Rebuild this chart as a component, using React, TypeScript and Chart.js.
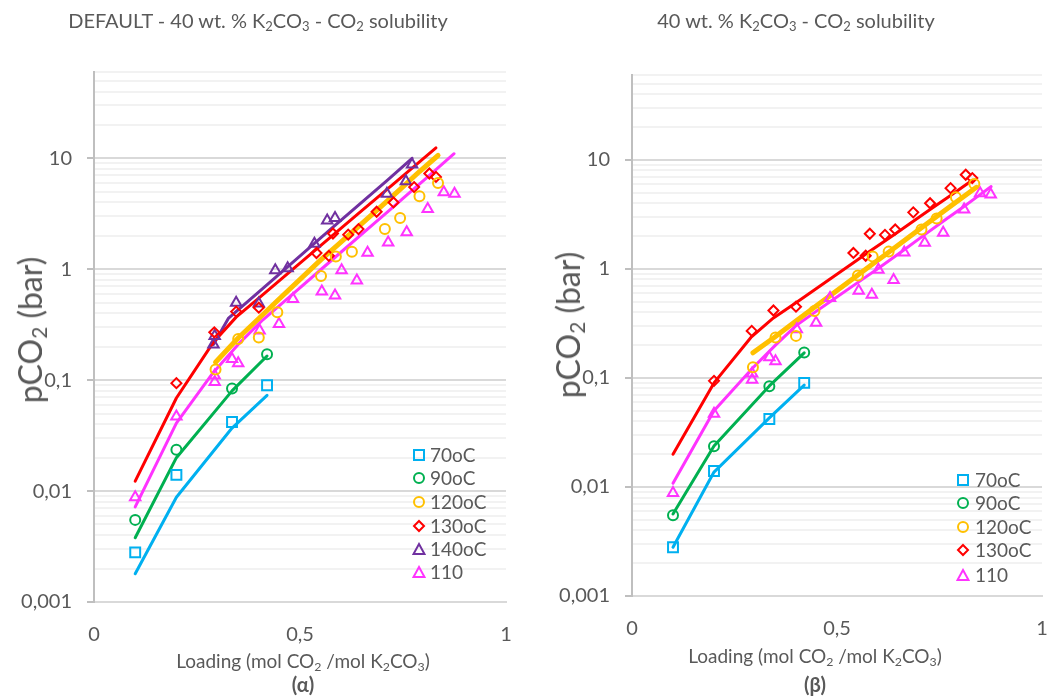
import React, { useEffect, useRef } from 'react';
import { Chart, registerables } from 'chart.js';

Chart.register(...registerables);

// ---------- axis ticks ----------
const xTickValues = [0, 0.5, 1];
const xTickLabels = ['0', '0,5', '1'];
const yMajorValues = [0.001, 0.01, 0.1, 1, 10];
const yMajorLabels = ['0,001', '0,01', '0,1', '1', '10'];
const yMin = 0.001;
const yMax = 60;

// ---------- experimental points (same in both panels) ----------
const exp70X = [0.1, 0.2, 0.335, 0.42];
const exp70Y = [0.0028, 0.014, 0.042, 0.09];
const exp90X = [0.1, 0.2, 0.335, 0.42];
const exp90Y = [0.0055, 0.0236, 0.084, 0.171];
const exp120X = [0.295, 0.35, 0.4, 0.445, 0.551, 0.587, 0.626, 0.706, 0.743, 0.79, 0.835];
const exp120Y = [0.125, 0.235, 0.243, 0.41, 0.87, 1.3, 1.44, 2.3, 2.9, 4.55, 6.0];
const exp130X = [0.2, 0.292, 0.345, 0.4, 0.54, 0.57, 0.58, 0.617, 0.642, 0.686, 0.727, 0.777, 0.814, 0.83];
const exp130Y = [0.094, 0.27, 0.415, 0.45, 1.4, 1.32, 2.1, 2.05, 2.3, 3.3, 4.0, 5.5, 7.3, 6.8];
const exp140X = [0.29, 0.293, 0.345, 0.4, 0.44, 0.47, 0.535, 0.566, 0.585, 0.711, 0.757, 0.772];
const exp140Y = [0.21, 0.25, 0.5, 0.49, 0.98, 1.02, 1.7, 2.75, 2.9, 4.8, 6.2, 8.8];
const exp110X = [0.1, 0.2, 0.293, 0.293, 0.335, 0.35, 0.402, 0.449, 0.483, 0.553, 0.585, 0.601, 0.638, 0.664, 0.714, 0.759, 0.81, 0.849, 0.875];
const exp110Y = [0.0088, 0.047, 0.096, 0.11, 0.155, 0.142, 0.28, 0.32, 0.54, 0.63, 0.58, 0.98, 0.79, 1.41, 1.74, 2.15, 3.5, 4.95, 4.8];

// ---------- model curves, panel (α) DEFAULT ----------
const a70X = [0.1, 0.2, 0.335, 0.42];
const a70Y = [0.0018, 0.0088, 0.037, 0.073];
const a90X = [0.1, 0.2, 0.335, 0.42];
const a90Y = [0.0038, 0.02, 0.08, 0.165];
const a120X = [0.295, 0.35, 0.4, 0.445, 0.551, 0.587, 0.626, 0.706, 0.743, 0.79, 0.835];
const a120Y = [0.145, 0.24, 0.36, 0.52, 1.22, 1.6, 2.15, 3.95, 5.25, 7.6, 10.6];
const a130X = [0.1, 0.2, 0.29, 0.345, 0.4, 0.54, 0.58, 0.64, 0.73, 0.83];
const a130Y = [0.0123, 0.069, 0.22, 0.37, 0.55, 1.52, 2.03, 3.14, 6.0, 12.4];
const a140X = [0.29, 0.326, 0.44, 0.535, 0.585, 0.711, 0.772];
const a140Y = [0.21, 0.36, 0.84, 1.71, 2.48, 6.3, 10.0];
const a110X = [0.1, 0.2, 0.29, 0.35, 0.41, 0.483, 0.553, 0.6, 0.664, 0.714, 0.759, 0.808, 0.874];
const a110Y = [0.0072, 0.041, 0.118, 0.21, 0.35, 0.6, 1.01, 1.43, 2.3, 3.33, 4.66, 6.7, 11.0];

// ---------- model curves, panel (β) ----------
const b70X = [0.1, 0.2, 0.335, 0.42];
const b70Y = [0.0028, 0.0137, 0.043, 0.086];
const b90X = [0.1, 0.2, 0.335, 0.42];
const b90Y = [0.00565, 0.0238, 0.0845, 0.17];
const b120X = [0.295, 0.35, 0.4, 0.445, 0.551, 0.587, 0.626, 0.706, 0.743, 0.79, 0.84];
const b120Y = [0.17, 0.24, 0.333, 0.445, 0.88, 1.11, 1.42, 2.38, 3.02, 4.08, 5.6];
const b130X = [0.1, 0.2, 0.29, 0.345, 0.4, 0.54, 0.58, 0.64, 0.686, 0.727, 0.777, 0.83];
const b130Y = [0.02, 0.09, 0.235, 0.355, 0.49, 1.14, 1.45, 2.07, 2.73, 3.5, 4.7, 6.5];
const b110X = [0.1, 0.2, 0.295, 0.35, 0.402, 0.45, 0.483, 0.553, 0.602, 0.664, 0.714, 0.759, 0.808, 0.849, 0.876];
const b110Y = [0.0108, 0.05, 0.124, 0.2, 0.306, 0.41, 0.5, 0.76, 1.02, 1.5, 2.06, 2.73, 3.7, 4.8, 5.69];

// ---------- styling ----------
const FONT = "Lato, 'Noto Sans', 'DejaVu Sans', sans-serif";
const TEXT = '#595959';
const C70 = '#00B0F0';
const C90 = '#00B050';
const C120 = '#FFC000';
const C130 = '#FF0000';
const C140 = '#7030A0';
const C110 = '#FF33FF';

const pts = (xs: number[], ys: number[]) => xs.map((x, i) => ({ x, y: ys[i] }));

function markerDs(label: string, xs: number[], ys: number[], color: string, style: string, radius: number) {
  return {
    label,
    data: pts(xs, ys),
    showLine: false,
    pointStyle: style,
    pointRadius: radius,
    pointBorderColor: color,
    pointBackgroundColor: 'rgba(0,0,0,0)',
    pointBorderWidth: 2,
    borderColor: color,
    order: 0,
  };
}

function lineDs(label: string, xs: number[], ys: number[], color: string, width: number) {
  return {
    label,
    data: pts(xs, ys),
    showLine: true,
    pointRadius: 0,
    borderColor: color,
    borderWidth: width,
    borderCapStyle: 'round',
    borderJoinStyle: 'round',
    fill: false,
    order: 1,
  };
}

const isMajor = (v: number) => {
  if (!(v > 0)) return false;
  const l = Math.log10(v);
  return Math.abs(l - Math.round(l)) < 1e-6;
};

function yTicks(): number[] {
  const out: number[] = [];
  for (let e = -3; e <= 1; e++) {
    for (let m = 1; m <= 9; m++) {
      const v = parseFloat((m * Math.pow(10, e)).toPrecision(6));
      if (v >= yMin - 1e-12 && v <= yMax + 1e-9) out.push(v);
    }
  }
  return out;
}

type Area = { left: number; top: number; right: number; bottom: number };

function Panel({ left, width, height, area, datasets }: { left: number; width: number; height: number; area: Area; datasets: any[] }) {
  const ref = useRef<HTMLCanvasElement>(null);
  useEffect(() => {
    if (!ref.current) return;
    const chart = new Chart(ref.current, {
      type: 'scatter',
      data: { datasets },
      options: {
        animation: false,
        responsive: false,
        events: [],
        layout: { padding: { top: area.top, right: width - area.right, left: 0, bottom: 0 } },
        plugins: { legend: { display: false }, tooltip: { enabled: false }, title: { display: false } },
        scales: {
          x: {
            type: 'linear',
            min: 0,
            max: 1,
            afterBuildTicks: (s: any) => {
              s.ticks = xTickValues.map((v) => ({ value: v }));
            },
            afterFit: (s: any) => {
              s.height = height - area.bottom;
            },
            grid: {
              display: true,
              drawOnChartArea: false,
              drawTicks: true,
              tickLength: 21,
              color: 'rgba(0,0,0,0)',
              tickColor: 'rgba(0,0,0,0)',
            },
            border: { display: true, color: '#d9d9d9', width: 2 },
            ticks: {
              autoSkip: false,
              maxRotation: 0,
              padding: 0,
              color: TEXT,
              font: { family: FONT, size: 20 },
              callback: (v: any) => {
                const i = xTickValues.findIndex((t) => Math.abs(t - Number(v)) < 1e-9);
                return i >= 0 ? xTickLabels[i] : '';
              },
            },
          },
          y: {
            type: 'logarithmic',
            min: yMin,
            max: yMax,
            afterBuildTicks: (s: any) => {
              s.ticks = yTicks().map((v) => ({ value: v, major: isMajor(v) }));
            },
            afterFit: (s: any) => {
              s.width = area.left;
            },
            grid: {
              color: (c: any) => (c.tick && isMajor(c.tick.value) ? '#d9d9d9' : '#f2f2f2'),
              lineWidth: 2,
              drawTicks: true,
              tickLength: 7,
              tickWidth: 2,
              tickColor: (c: any) => (c.tick && isMajor(c.tick.value) ? '#bfbfbf' : 'rgba(0,0,0,0)'),
            },
            border: { display: true, color: '#bfbfbf', width: 2 },
            ticks: {
              autoSkip: false,
              padding: 15,
              color: TEXT,
              font: { family: FONT, size: 20 },
              callback: (v: any) => {
                const i = yMajorValues.findIndex((t) => Math.abs(Math.log10(t) - Math.log10(Number(v))) < 1e-6);
                return i >= 0 ? yMajorLabels[i] : '';
              },
            },
          },
        },
      } as any,
    });
    return () => chart.destroy();
  }, []);
  return (
    <canvas
      ref={ref}
      width={width}
      height={height}
      style={{ position: 'absolute', left, top: 0, width, height }}
    />
  );
}

function Marker({ shape, color }: { shape: string; color: string }) {
  return (
    <svg width={14} height={14} style={{ display: 'block' }}>
      {shape === 'rect' && <rect x={2} y={2} width={10} height={10} fill="none" stroke={color} strokeWidth={2} />}
      {shape === 'circle' && <circle cx={7} cy={7} r={5} fill="none" stroke={color} strokeWidth={2} />}
      {shape === 'diamond' && <polygon points="7,2 12,7 7,12 2,7" fill="none" stroke={color} strokeWidth={2} />}
      {shape === 'triangle' && <polygon points="7,2 12.5,12 1.5,12" fill="none" stroke={color} strokeWidth={2} />}
    </svg>
  );
}

function Legend({ markerX, textX, ys, items }: { markerX: number; textX: number; ys: number[]; items: { label: string; shape: string; color: string }[] }) {
  return (
    <>
      {items.map((it, i) => (
        <React.Fragment key={it.label}>
          <div style={{ position: 'absolute', left: markerX - 7, top: ys[i] - 7 }}>
            <Marker shape={it.shape} color={it.color} />
          </div>
          <div style={{ position: 'absolute', left: textX, top: ys[i] - 12, fontSize: 19, lineHeight: '24px', color: TEXT, fontFamily: FONT, whiteSpace: 'nowrap' }}>
            {it.label}
          </div>
        </React.Fragment>
      ))}
    </>
  );
}

const centered = (x: number, y: number, extra: any = {}) => ({
  position: 'absolute' as const,
  left: x,
  top: y,
  transform: 'translate(-50%, -50%)',
  whiteSpace: 'nowrap' as const,
  color: TEXT,
  fontFamily: FONT,
  lineHeight: 1,
  ...extra,
});

const subStyle = { fontSize: '0.65em', verticalAlign: '-0.25em', lineHeight: 0 };

function YTitle({ x, y }: { x: number; y: number }) {
  return (
    <div style={centered(x, y, { transform: 'translate(-50%, -50%) rotate(-90deg)', fontSize: 32 })}>
      pCO<span style={subStyle}>2</span> (bar)
    </div>
  );
}

function XTitle({ x, y }: { x: number; y: number }) {
  return (
    <div style={centered(x, y, { fontSize: 19 })}>
      Loading (mol CO<span style={subStyle}>2</span> /mol K<span style={subStyle}>2</span>CO<span style={subStyle}>3</span>)
    </div>
  );
}

export default function App() {
  const leftArea: Area = { left: 94, top: 72, right: 506, bottom: 602 };
  const rightArea: Area = { left: 102, top: 75, right: 512, bottom: 596 };

  const alphaSets = [
    lineDs('70oC model', a70X, a70Y, C70, 3),
    lineDs('90oC model', a90X, a90Y, C90, 3),
    lineDs('120oC model', a120X, a120Y, C120, 5),
    lineDs('130oC model', a130X, a130Y, C130, 3),
    lineDs('140oC model', a140X, a140Y, C140, 3),
    lineDs('110 model', a110X, a110Y, C110, 3),
    markerDs('70oC', exp70X, exp70Y, C70, 'rect', 7),
    markerDs('90oC', exp90X, exp90Y, C90, 'circle', 5),
    markerDs('120oC', exp120X, exp120Y, C120, 'circle', 5),
    markerDs('130oC', exp130X, exp130Y, C130, 'rectRot', 5),
    markerDs('140oC', exp140X, exp140Y, C140, 'triangle', 6),
    markerDs('110', exp110X, exp110Y, C110, 'triangle', 6),
  ];

  const betaSets = [
    lineDs('70oC model', b70X, b70Y, C70, 3),
    lineDs('90oC model', b90X, b90Y, C90, 3),
    lineDs('120oC model', b120X, b120Y, C120, 5),
    lineDs('130oC model', b130X, b130Y, C130, 3),
    lineDs('110 model', b110X, b110Y, C110, 3),
    markerDs('70oC', exp70X, exp70Y, C70, 'rect', 7),
    markerDs('90oC', exp90X, exp90Y, C90, 'circle', 5),
    markerDs('120oC', exp120X, exp120Y, C120, 'circle', 5),
    markerDs('130oC', exp130X, exp130Y, C130, 'rectRot', 5),
    markerDs('110', exp110X, exp110Y, C110, 'triangle', 6),
  ];

  const legendAlpha = [
    { label: '70oC', shape: 'rect', color: C70 },
    { label: '90oC', shape: 'circle', color: C90 },
    { label: '120oC', shape: 'circle', color: C120 },
    { label: '130oC', shape: 'diamond', color: C130 },
    { label: '140oC', shape: 'triangle', color: C140 },
    { label: '110', shape: 'triangle', color: C110 },
  ];
  const legendBeta = [
    { label: '70oC', shape: 'rect', color: C70 },
    { label: '90oC', shape: 'circle', color: C90 },
    { label: '120oC', shape: 'circle', color: C120 },
    { label: '130oC', shape: 'diamond', color: C130 },
    { label: '110', shape: 'triangle', color: C110 },
  ];

  return (
    <div style={{ position: 'absolute', left: 0, top: 0, width: 1051, height: 697, background: '#fff', overflow: 'hidden' }}>
      <Panel left={0} width={520} height={660} area={leftArea} datasets={alphaSets} />
      <Panel left={530} width={521} height={660} area={rightArea} datasets={betaSets} />

      <div style={centered(258, 20, { fontSize: 20 })}>
        DEFAULT - 40 wt. % K<span style={subStyle}>2</span>CO<span style={subStyle}>3</span> - CO<span style={subStyle}>2</span> solubility
      </div>
      <div style={centered(796, 20, { fontSize: 20 })}>
        40 wt. % K<span style={subStyle}>2</span>CO<span style={subStyle}>3</span> - CO<span style={subStyle}>2</span> solubility
      </div>

      <YTitle x={30} y={330} />
      <YTitle x={568} y={325} />
      <XTitle x={303} y={660} />
      <XTitle x={815} y={655} />
      <div style={centered(303, 684, { fontSize: 20, fontWeight: 'bold' })}>(α)</div>
      <div style={centered(815, 684, { fontSize: 20, fontWeight: 'bold' })}>(β)</div>

      <Legend markerX={419} textX={430} ys={[455, 478, 502, 526, 549, 572]} items={legendAlpha} />
      <Legend markerX={963} textX={975} ys={[480, 503, 527, 550, 575]} items={legendBeta} />
    </div>
  );
}
